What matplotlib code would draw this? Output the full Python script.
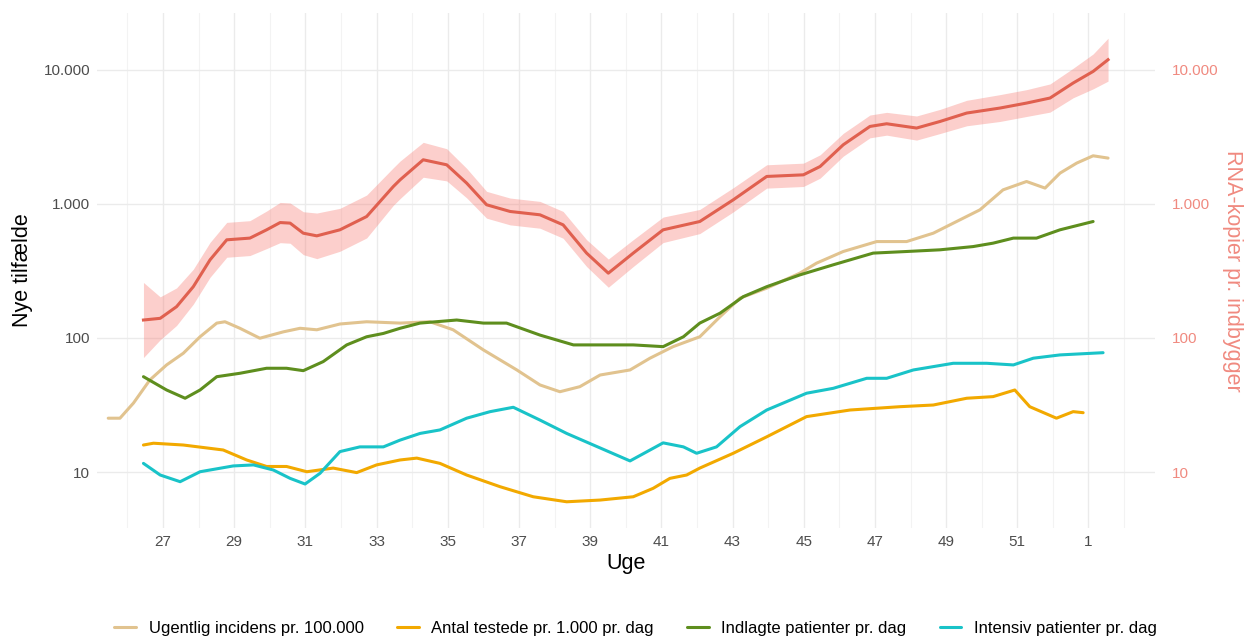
import numpy as np
import matplotlib.pyplot as plt
from matplotlib.ticker import FixedLocator, FuncFormatter, NullFormatter

plt.rcParams['font.family'] = ['Liberation Sans', 'DejaVu Sans']

# Weeks on a continuous axis (53 is shown as week "1")
rna_week = [26.45, 26.92, 27.38, 27.85, 28.32, 28.79, 29.44, 29.91, 30.29, 30.57,
            30.94, 31.32, 31.97, 32.72, 33.47, 33.66, 34.31, 34.97, 35.53, 36.09,
            36.75, 37.59, 38.24, 38.90, 39.51, 40.21, 41.05, 42.08, 43.02, 43.96,
            44.99, 45.46, 46.11, 46.86, 47.33, 48.17, 48.83, 49.58, 50.51, 51.26,
            51.92, 52.57, 53.13, 53.55]
rna_value = [136, 140, 171, 241, 382, 539, 555, 640, 725, 718,
             604, 577, 640, 804, 1346, 1510, 2130, 1954, 1427, 984,
             877, 828, 697, 429, 304, 429, 640, 738, 1071, 1600,
             1645, 1898, 2756, 3776, 3954, 3673, 4113, 4753, 5176, 5640,
             6150, 7960, 9710, 11880]
# half width of the confidence band, in log10 units
rna_ci = [0.28, 0.16, 0.14, 0.13, 0.13, 0.13, 0.13, 0.14, 0.15, 0.15,
          0.16, 0.17, 0.16, 0.16, 0.14, 0.14, 0.13, 0.12, 0.11, 0.10,
          0.10, 0.10, 0.10, 0.10, 0.105, 0.10, 0.095, 0.09, 0.09, 0.087,
          0.087, 0.087, 0.085, 0.085, 0.085, 0.09, 0.09, 0.095, 0.10, 0.10,
          0.105, 0.11, 0.13, 0.16]

inc_week = [25.46, 25.79, 26.17, 26.63, 27.10, 27.57, 28.04, 28.51, 28.74, 29.16,
            29.72, 30.38, 30.85, 31.32, 31.97, 32.72, 33.66, 34.50, 35.15, 36.00,
            36.94, 37.59, 38.15, 38.71, 39.28, 40.12, 40.68, 41.33, 42.08, 42.65,
            43.21, 43.96, 44.89, 45.36, 46.11, 47.05, 47.89, 48.64, 49.39, 49.95,
            50.60, 51.26, 51.78, 52.20, 52.67, 53.13, 53.55]
inc_value = [25.2, 25.2, 32.7, 48.6, 62.9, 76.9, 102, 129, 132, 118,
             99.5, 111, 118, 115, 127, 132, 129, 132, 115, 81.4,
             57.7, 44.6, 39.7, 43.3, 52.9, 57.7, 70.6, 86.1, 102, 144,
             198, 235, 304, 361, 441, 523, 523, 604, 760, 902,
             1271, 1467, 1310, 1694, 2013, 2281, 2193]

hosp_week = [26.45, 27.10, 27.62, 28.04, 28.51, 29.16, 29.91, 30.47, 30.94, 31.50,
             32.16, 32.72, 33.19, 33.66, 34.22, 35.25, 36.00, 36.65, 37.59, 38.53,
             39.28, 40.21, 41.05, 41.62, 42.08, 42.65, 43.30, 43.96, 44.89, 45.83,
             46.95, 47.89, 48.83, 49.76, 50.32, 50.89, 51.54, 52.20, 53.13]
hosp_value = [51.4, 40.9, 35.5, 40.9, 51.4, 54.5, 59.4, 59.4, 57.0, 66.6,
              88.7, 102, 108, 118, 129, 136, 129, 129, 105, 88.7,
              88.7, 88.7, 86.1, 102, 129, 153, 203, 241, 295, 351,
              429, 441, 454, 480, 509, 555, 555, 640, 738]

test_week = [26.45, 26.73, 27.57, 28.69, 29.35, 29.91, 30.47, 31.04, 31.78, 32.44,
             33.00, 33.66, 34.13, 34.78, 35.53, 36.47, 37.40, 38.34, 39.28, 40.21,
             40.77, 41.24, 41.71, 42.08, 43.02, 43.96, 45.08, 46.30, 47.70, 48.64,
             49.58, 50.32, 50.93, 51.35, 52.10, 52.57, 52.85]
test_value = [15.9, 16.4, 15.9, 14.6, 12.3, 11.0, 11.0, 10.05, 10.7, 9.9,
              11.3, 12.3, 12.7, 11.6, 9.5, 7.77, 6.54, 6.0, 6.18, 6.54,
              7.56, 8.97, 9.5, 10.7, 13.8, 18.3, 25.9, 29.0, 30.7, 31.6,
              35.5, 36.5, 40.9, 30.7, 25.2, 28.2, 27.7]

icu_week = [26.45, 26.92, 27.48, 28.04, 28.97, 29.54, 30.10, 30.57, 30.99, 31.41,
            31.97, 32.53, 33.19, 33.66, 34.22, 34.78, 35.53, 36.19, 36.84, 37.59,
            38.34, 39.09, 40.12, 41.05, 41.62, 41.99, 42.55, 43.21, 43.96, 45.08,
            45.83, 46.77, 47.33, 48.08, 49.20, 50.14, 50.89, 51.45, 52.20, 53.41]
icu_value = [11.6, 9.5, 8.47, 10.05, 11.1, 11.3, 10.35, 8.97, 8.14, 9.78,
             14.2, 15.4, 15.4, 17.3, 19.4, 20.6, 25.2, 28.2, 30.4, 24.4,
             19.4, 15.9, 12.1, 16.5, 15.4, 13.8, 15.4, 21.8, 29.0, 38.7,
             42.1, 50.0, 50.0, 57.7, 64.7, 64.7, 62.9, 70.6, 74.7, 77.6]

major_weeks = [27, 29, 31, 33, 35, 37, 39, 41, 43, 45, 47, 49, 51, 53]
week_labels = ['27', '29', '31', '33', '35', '37', '39', '41', '43', '45',
               '47', '49', '51', '1']
minor_weeks = [26, 28, 30, 32, 34, 36, 38, 40, 42, 44, 46, 48, 50, 52, 54]
y_ticks = [10, 100, 1000, 10000]


def dk_fmt(v, pos):
    return f'{int(round(v)):,}'.replace(',', '.')


def main():
    fig = plt.figure(figsize=(12.46, 6.37), dpi=100)
    ax = fig.add_axes([0.078, 0.171, 0.849, 0.809])

    lab_col = '#4d4d4d'
    red = '#E0604F'

    # RNA line with band
    rna = np.array(rna_value)
    ci = np.array(rna_ci)
    ax.fill_between(rna_week, rna / 10 ** ci, rna * 10 ** ci, color='#F8766D',
                    alpha=0.35, lw=0)
    ax.plot(rna_week, rna_value, color=red, lw=2.2, solid_joinstyle='round')

    style = dict(lw=2.2, solid_joinstyle='round', solid_capstyle='round')
    ax.plot(inc_week, inc_value, color='#E1C38F',
            label='Ugentlig incidens pr. 100.000', **style)
    ax.plot(test_week, test_value, color='#F2A900',
            label='Antal testede pr. 1.000 pr. dag', **style)
    ax.plot(hosp_week, hosp_value, color='#5E8E1E',
            label='Indlagte patienter pr. dag', **style)
    ax.plot(icu_week, icu_value, color='#19C3C8',
            label='Intensiv patienter pr. dag', **style)

    ax.set_yscale('log')
    ax.set_ylim(3.82, 26600)
    ax.set_xlim(25.15, 54.87)

    ax.xaxis.set_major_locator(FixedLocator(major_weeks))
    ax.xaxis.set_minor_locator(FixedLocator(minor_weeks))
    ax.set_xticklabels(week_labels)
    ax.yaxis.set_major_locator(FixedLocator(y_ticks))
    ax.yaxis.set_minor_locator(FixedLocator([]))
    ax.yaxis.set_major_formatter(FuncFormatter(dk_fmt))
    ax.yaxis.set_minor_formatter(NullFormatter())

    ax.grid(True, which='major', color='#ebebeb', lw=1.0)
    ax.grid(True, which='minor', axis='x', color='#f3f3f3', lw=0.8)
    ax.set_axisbelow(True)
    for s in ax.spines.values():
        s.set_visible(False)
    ax.tick_params(which='both', length=0, labelsize=11, labelcolor=lab_col, pad=5)

    ax.set_xlabel('Uge', fontsize=15.5, color='black', labelpad=3)
    ax.set_ylabel('Nye tilfælde', fontsize=15.5, color='black', labelpad=8)

    # secondary axis on the right, same scale
    ax2 = ax.twinx()
    ax2.set_yscale('log')
    ax2.set_ylim(ax.get_ylim())
    ax2.yaxis.set_major_locator(FixedLocator(y_ticks))
    ax2.yaxis.set_minor_locator(FixedLocator([]))
    ax2.yaxis.set_major_formatter(FuncFormatter(dk_fmt))
    ax2.yaxis.set_minor_formatter(NullFormatter())
    for s in ax2.spines.values():
        s.set_visible(False)
    ax2.tick_params(length=0, labelsize=11, labelcolor='#F08A80', pad=12)
    ax2.set_ylabel('RNA-kopier pr. indbygger', fontsize=15.5, color='#F08A80',
                   rotation=270, labelpad=18)

    handles, labels = ax.get_legend_handles_labels()
    fig.legend(handles, labels, loc='lower center', bbox_to_anchor=(0.51, -0.022),
               ncol=4, frameon=False, fontsize=12, handlelength=1.3,
               columnspacing=2.0, handletextpad=0.75)

    fig.savefig('out.png', dpi=100)


if __name__ == '__main__':
    main()
